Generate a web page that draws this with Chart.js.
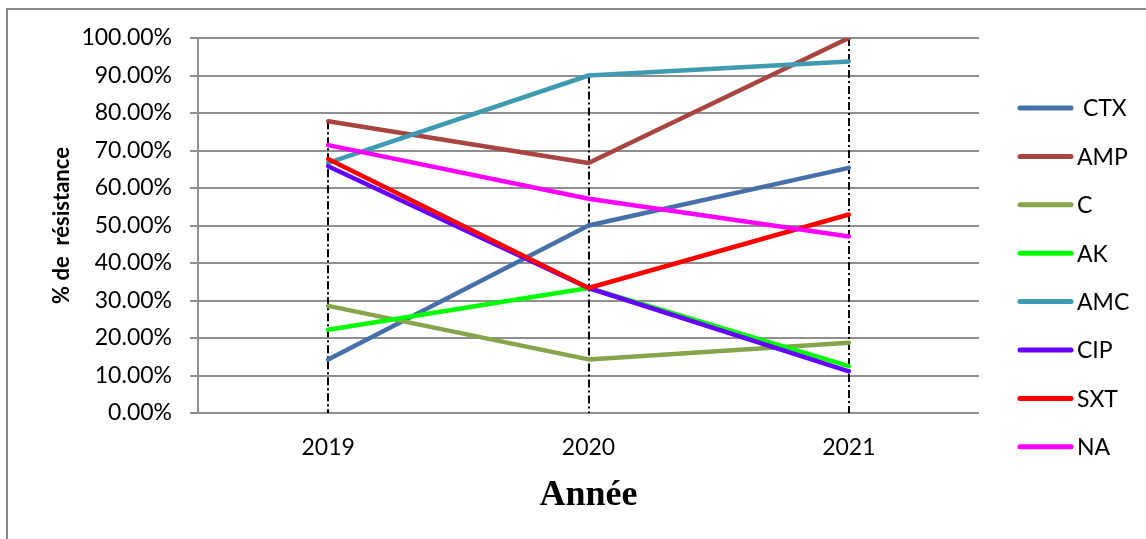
<!DOCTYPE html>
<html>
<head>
<meta charset="utf-8">
<script src="https://cdn.jsdelivr.net/npm/chart.js@4"></script>
<style>
  html, body { margin: 0; padding: 0; background: #fff; overflow: hidden; }
  #wrap { position: relative; width: 1146px; height: 539px; }
</style>
</head>
<body>
<div id="wrap"><canvas id="chart"></canvas></div>
<script>
// data (percent)
const years = ['2019', '2020', '2021'];
const seriesNames = ['CTX', 'AMP', 'C', 'AK', 'AMC', 'CIP', 'SXT', 'NA'];
const ctxValues = [14.29, 50.0, 65.38];
const ampValues = [77.78, 66.67, 100.0];
const cValues = [28.57, 14.29, 18.75];
const akValues = [22.22, 33.33, 12.5];
const amcValues = [66.67, 90.0, 93.75];
const cipValues = [65.79, 33.33, 11.11];
const sxtValues = [67.74, 33.33, 52.94];
const naValues = [71.43, 57.14, 47.06];
const yTicks = [0, 10, 20, 30, 40, 50, 60, 70, 80, 90, 100];

const colors = ['#4670AA', '#A84541', '#86A44C', '#00FF00', '#3E9AB0', '#6600FF', '#FF0000', '#FF00FF'];
const allValues = [ctxValues, ampValues, cValues, akValues, amcValues, cipValues, sxtValues, naValues];

const tickFont = { family: 'Lato, "Open Sans", sans-serif', size: 23 };

// Excel draws later series on top
const datasets = seriesNames.map((name, i) => ({
    label: name,
    data: allValues[i],
    borderColor: colors[i],
    backgroundColor: colors[i],
    borderWidth: 4.5,
    borderCapStyle: 'round',
    borderJoinStyle: 'round',
    pointRadius: 0,
    tension: 0,
    order: seriesNames.length - i
}));

// outer frame (left + top edges, the rest is cut off)
const framePlugin = {
    id: 'frame',
    beforeDraw(chart) {
        const c = chart.ctx;
        c.save();
        c.strokeStyle = '#8a8a8a';
        c.lineWidth = 2;
        c.beginPath();
        c.moveTo(7, 540);
        c.lineTo(7, 9);
        c.lineTo(1146, 9);
        c.stroke();
        c.restore();
    }
};

// drop lines from the highest point of each year to the axis
const dropLines = {
    id: 'dropLines',
    beforeDatasetsDraw(chart) {
        const { ctx: c, scales: { x, y } } = chart;
        c.save();
        c.strokeStyle = '#000';
        c.lineWidth = 2;
        c.setLineDash([8, 3, 2, 3]);
        years.forEach((yr, i) => {
            const top = Math.max(...allValues.map(v => v[i]));
            const px = Math.round(x.getPixelForValue(i));
            c.beginPath();
            c.moveTo(px, y.getPixelForValue(top));
            c.lineTo(px, y.getPixelForValue(0));
            c.stroke();
        });
        c.restore();
    }
};

// legend at right, one row per series
const sideLegend = {
    id: 'sideLegend',
    afterDraw(chart) {
        const c = chart.ctx;
        c.save();
        c.font = `${tickFont.size}px ${tickFont.family}`;
        c.textBaseline = 'middle';
        c.textAlign = 'left';
        chart.data.datasets.forEach((ds, i) => {
            const rowY = 108 + i * 48.4;
            c.strokeStyle = ds.borderColor;
            c.lineWidth = 5;
            c.lineCap = 'round';
            c.beginPath();
            c.moveTo(1020, rowY);
            c.lineTo(1071, rowY);
            c.stroke();
            c.fillStyle = '#000';
            c.fillText((i === 0 ? ' ' : '') + ds.label, 1077, rowY + 1);
        });
        c.restore();
    }
};

new Chart(document.getElementById('chart'), {
    type: 'line',
    data: { labels: years, datasets: datasets },
    options: {
        responsive: true,
        maintainAspectRatio: false,
        animation: false,
        layout: { padding: { left: 0, right: 167, top: 38, bottom: 0 } },
        plugins: { legend: { display: false }, tooltip: { enabled: false } },
        scales: {
            x: {
                offset: true,
                afterFit: s => { s.height = 126; },
                grid: { display: false, drawTicks: false },
                border: { display: false },
                ticks: { font: tickFont, color: '#000', padding: 21 },
                title: {
                    display: true,
                    text: 'Année',
                    color: '#000',
                    font: { family: '"Liberation Serif", "Times New Roman", serif', size: 36, weight: 'bold' },
                    padding: { top: 0, bottom: 22 }
                }
            },
            y: {
                min: 0,
                max: 100,
                afterFit: s => { s.width = 198; },
                afterBuildTicks: s => { s.ticks = yTicks.map(v => ({ value: v })); },
                grid: { color: '#8f8f8f', lineWidth: 2, tickLength: 8, tickColor: '#8f8f8f' },
                border: { display: true, color: '#8f8f8f', width: 2 },
                ticks: {
                    font: tickFont,
                    color: '#000',
                    padding: 18,
                    callback: v => v.toFixed(2) + '%'
                },
                title: {
                    display: true,
                    text: '% de  résistance',
                    color: '#000',
                    font: { family: 'Lato, "Open Sans", sans-serif', size: 22, weight: 'bold' },
                    padding: { top: 49, bottom: 0 }
                }
            }
        }
    },
    plugins: [framePlugin, dropLines, sideLegend]
});
</script>
</body>
</html>
